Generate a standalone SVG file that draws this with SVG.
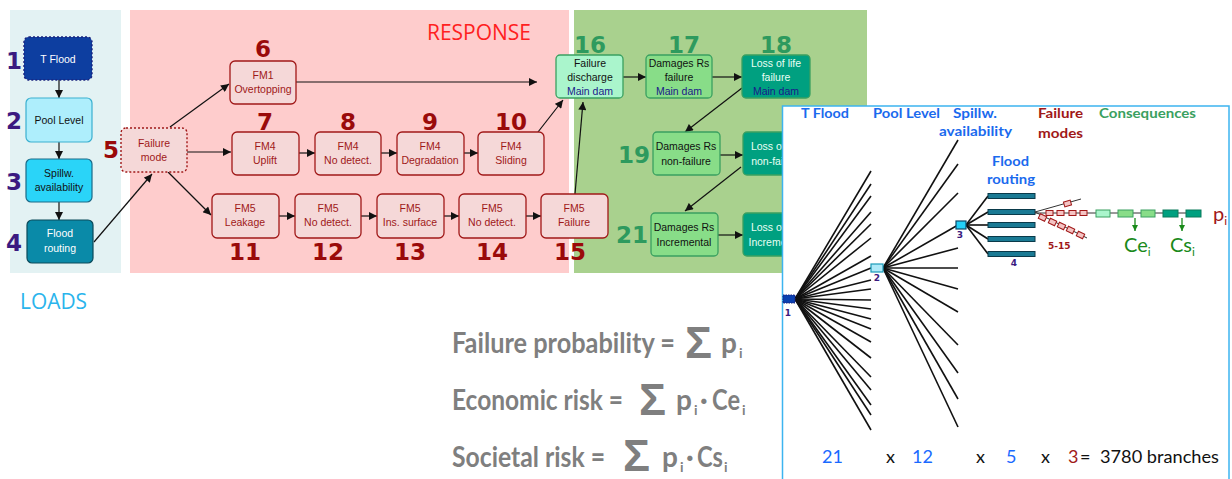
<svg xmlns="http://www.w3.org/2000/svg" width="1232" height="479" viewBox="0 0 1232 479">
<defs>
<marker id="ah" viewBox="0 0 10 10" refX="10" refY="5" markerWidth="9" markerHeight="8" markerUnits="userSpaceOnUse" orient="auto"><path d="M0,0 L10,5 L0,10 z" fill="#111"/></marker>
<marker id="ahg" viewBox="0 0 10 10" refX="10" refY="5" markerWidth="6" markerHeight="6" markerUnits="userSpaceOnUse" orient="auto"><path d="M0,0 L10,5 L0,10 z" fill="#1a8a1a"/></marker>
<style>
.bt{font-family:"Liberation Sans",Arial,sans-serif;font-size:10.5px;text-anchor:middle}
.fm{fill:#f5d8d8;stroke:#a01818;stroke-width:1.3}
.fmt{fill:#a01818}
.nr{font-family:"DejaVu Sans",Verdana,sans-serif;font-weight:bold;font-size:23px;fill:#9a0a0a;text-anchor:middle}
.ng{font-family:"DejaVu Sans",Verdana,sans-serif;font-weight:bold;font-size:23px;fill:#2e9a5e;text-anchor:middle}
.np{font-family:"DejaVu Sans",Verdana,sans-serif;font-weight:bold;font-size:23px;fill:#3a1a80;text-anchor:middle}
.c{stroke:#111;stroke-width:1.2;fill:none;marker-end:url(#ah)}
.hd{font-family:Lato,"Open Sans",sans-serif;font-weight:bold;font-size:14px}
.br{stroke:#111;stroke-width:1.6}
.fx{font-family:Lato,"Open Sans",sans-serif;font-weight:bold;font-size:28px;fill:#7f7f7f}
.sg{font-family:"Liberation Sans",Arial,sans-serif;font-weight:bold;font-size:45px;fill:#7f7f7f}
.sb{font-family:Lato,"Open Sans",sans-serif;font-weight:bold;font-size:14px;fill:#7f7f7f}
.ct{font-family:Lato,"Open Sans",sans-serif;font-size:18px}
.tn{font-family:"DejaVu Sans",Verdana,sans-serif;font-weight:bold;font-size:9px;fill:#3a1a80;text-anchor:middle}
.pk{fill:#f4c4c4;stroke:#a01818;stroke-width:1}
</style>
</defs>

<!-- panels -->
<rect x="10" y="10" width="111" height="263" fill="#e3f2f3"/>
<rect x="130" y="10" width="439" height="263" fill="#fecccc"/>
<rect x="574" y="10" width="293" height="263" fill="#a9d18e"/>
<text x="20" y="309" font-family="'Open Sans',sans-serif" font-size="21" fill="#2ab4ec" textLength="67" lengthAdjust="spacingAndGlyphs">LOADS</text>
<text x="427" y="40" font-family="'Open Sans',sans-serif" font-size="21" fill="#ff2020" textLength="104" lengthAdjust="spacingAndGlyphs">RESPONSE</text>

<!-- connectors -->
<g id="connectors">
<line class="c" x1="59" y1="80" x2="59" y2="98"/>
<line class="c" x1="59" y1="142" x2="59" y2="159"/>
<line class="c" x1="59" y1="202" x2="59" y2="220"/>
<line class="c" x1="94" y1="242" x2="152" y2="174"/>
<line class="c" x1="170" y1="127" x2="229" y2="84"/>
<line class="c" x1="187" y1="152" x2="231" y2="152"/>
<line class="c" x1="168" y1="172" x2="211" y2="215"/>
<line class="c" x1="296" y1="82" x2="537" y2="82"/>
<line class="c" x1="299" y1="153" x2="315" y2="153"/>
<line class="c" x1="381" y1="153" x2="397" y2="153"/>
<line class="c" x1="464" y1="153" x2="478" y2="153"/>
<line class="c" x1="538" y1="132" x2="563" y2="100"/>
<line class="c" x1="279" y1="216" x2="295" y2="216"/>
<line class="c" x1="361" y1="216" x2="377" y2="216"/>
<line class="c" x1="444" y1="216" x2="459" y2="216"/>
<line class="c" x1="526" y1="216" x2="541" y2="216"/>
<line class="c" x1="575" y1="194" x2="583" y2="102"/>
<line class="c" x1="623" y1="77" x2="646" y2="77"/>
<line class="c" x1="712" y1="77" x2="742" y2="77"/>
<line class="c" x1="742" y1="88" x2="685" y2="132"/>
<line class="c" x1="720" y1="155" x2="743" y2="155"/>
<line class="c" x1="741" y1="167" x2="685" y2="211"/>
<line class="c" x1="718" y1="235" x2="743" y2="235"/>
</g>

<!-- loads nodes -->
<g id="n1"><rect x="24" y="37" width="68" height="43" rx="5" fill="#0d3ea0" stroke="#1a237e" stroke-width="1.4" stroke-dasharray="2 2"/><text class="bt" x="58" y="63" fill="#fff">T Flood</text><text class="np" x="14" y="69">1</text></g>
<g id="n2"><rect x="26" y="98" width="66" height="44" rx="5" fill="#aeeefc" stroke="#3ab0d0" stroke-width="1.2"/><text class="bt" x="59" y="124" fill="#111">Pool Level</text><text class="np" x="14" y="129">2</text></g>
<g id="n3"><rect x="26" y="159" width="66" height="43" rx="5" fill="#2ad4f8" stroke="#1a6a88" stroke-width="1.2"/><text class="bt" x="59" y="177" fill="#111">Spillw.</text><text class="bt" x="59" y="191" fill="#111">availability</text><text class="np" x="14" y="190">3</text></g>
<g id="n4"><rect x="27" y="220" width="66" height="43" rx="5" fill="#0a8aa8" stroke="#0a4a5a" stroke-width="1.2"/><text class="bt" x="60" y="237" fill="#fff">Flood</text><text class="bt" x="60" y="252" fill="#fff">routing</text><text class="np" x="14" y="251">4</text></g>

<!-- response nodes -->
<g id="n5"><rect x="121" y="128" width="66" height="44" rx="5" fill="#f5d8d8" stroke="#a01818" stroke-width="1.4" stroke-dasharray="2 2"/><text class="bt fmt" x="154" y="147">Failure</text><text class="bt fmt" x="154" y="161">mode</text><text class="nr" x="111" y="158">5</text></g>
<g id="n6"><rect class="fm" x="230" y="61" width="66" height="43" rx="5"/><text class="bt fmt" x="263" y="79">FM1</text><text class="bt fmt" x="263" y="93">Overtopping</text><text class="nr" x="263" y="57">6</text></g>
<g id="n7"><rect class="fm" x="232" y="132" width="67" height="43" rx="5"/><text class="bt fmt" x="265" y="150">FM4</text><text class="bt fmt" x="265" y="164">Uplift</text><text class="nr" x="265" y="130">7</text></g>
<g id="n8"><rect class="fm" x="315" y="132" width="66" height="43" rx="5"/><text class="bt fmt" x="348" y="150">FM4</text><text class="bt fmt" x="348" y="164">No detect.</text><text class="nr" x="348" y="130">8</text></g>
<g id="n9"><rect class="fm" x="397" y="132" width="67" height="43" rx="5"/><text class="bt fmt" x="430" y="150">FM4</text><text class="bt fmt" x="430" y="164">Degradation</text><text class="nr" x="430" y="130">9</text></g>
<g id="n10"><rect class="fm" x="478" y="132" width="66" height="43" rx="5"/><text class="bt fmt" x="511" y="150">FM4</text><text class="bt fmt" x="511" y="164">Sliding</text><text class="nr" x="511" y="130">10</text></g>
<g id="n11"><rect class="fm" x="212" y="194" width="67" height="44" rx="5"/><text class="bt fmt" x="245" y="212">FM5</text><text class="bt fmt" x="245" y="226">Leakage</text><text class="nr" x="245" y="260">11</text></g>
<g id="n12"><rect class="fm" x="295" y="194" width="66" height="44" rx="5"/><text class="bt fmt" x="328" y="212">FM5</text><text class="bt fmt" x="328" y="226">No detect.</text><text class="nr" x="328" y="260">12</text></g>
<g id="n13"><rect class="fm" x="377" y="194" width="67" height="44" rx="5"/><text class="bt fmt" x="410" y="212">FM5</text><text class="bt fmt" x="410" y="226">Ins. surface</text><text class="nr" x="410" y="260">13</text></g>
<g id="n14"><rect class="fm" x="459" y="194" width="67" height="44" rx="5"/><text class="bt fmt" x="492" y="212">FM5</text><text class="bt fmt" x="492" y="226">No detect.</text><text class="nr" x="492" y="260">14</text></g>
<g id="n15"><rect class="fm" x="541" y="194" width="67" height="44" rx="5"/><text class="bt fmt" x="574" y="212">FM5</text><text class="bt fmt" x="574" y="226">Failure</text><text class="nr" x="570" y="260">15</text></g>

<!-- consequence nodes -->
<g id="n16"><rect x="556" y="55" width="67" height="43" rx="4" fill="#aaf5cc" stroke="#3aa060" stroke-width="1.3"/><text class="bt" x="590" y="67" fill="#111">Failure</text><text class="bt" x="590" y="81" fill="#111">discharge</text><text class="bt" x="590" y="95" fill="#1a1a8a">Main dam</text><text class="ng" x="590" y="53">16</text></g>
<g id="n17"><rect x="646" y="55" width="66" height="43" rx="4" fill="#88dd88" stroke="#3aa060" stroke-width="1.3"/><text class="bt" x="679" y="67" fill="#111">Damages Rs</text><text class="bt" x="679" y="81" fill="#111">failure</text><text class="bt" x="679" y="95" fill="#1a1a8a">Main dam</text><text class="ng" x="684" y="53">17</text></g>
<g id="n18"><rect x="742" y="55" width="68" height="43" rx="4" fill="#00a080" stroke="#3aa060" stroke-width="1.3"/><text class="bt" x="776" y="67" fill="#e8fff4">Loss of life</text><text class="bt" x="776" y="81" fill="#e8fff4">failure</text><text class="bt" x="776" y="95" fill="#1a1a8a">Main dam</text><text class="ng" x="776" y="53">18</text></g>
<g id="n19"><rect x="653" y="132" width="67" height="43" rx="4" fill="#88dd88" stroke="#3aa060" stroke-width="1.3"/><text class="bt" x="686" y="150" fill="#111">Damages Rs</text><text class="bt" x="686" y="165" fill="#111">non-failure</text><text class="ng" x="634" y="163">19</text></g>
<g id="n20"><rect x="743" y="132" width="67" height="43" rx="4" fill="#00a080" stroke="#3aa060" stroke-width="1.3"/><text class="bt" x="776" y="150" fill="#e8fff4">Loss of life</text><text class="bt" x="776" y="165" fill="#e8fff4">non-failure</text></g>
<g id="n21"><rect x="651" y="213" width="67" height="43" rx="4" fill="#88dd88" stroke="#3aa060" stroke-width="1.3"/><text class="bt" x="684" y="231" fill="#111">Damages Rs</text><text class="bt" x="684" y="246" fill="#111">Incremental</text><text class="ng" x="632" y="243">21</text></g>
<g id="n22"><rect x="743" y="213" width="67" height="43" rx="4" fill="#00a080" stroke="#3aa060" stroke-width="1.3"/><text class="bt" x="776" y="231" fill="#e8fff4">Loss of life</text><text class="bt" x="776" y="246" fill="#e8fff4">Incremental</text></g>

<!-- formulas -->
<g id="formulas">
<text class="fx" x="452" y="353" textLength="223" lengthAdjust="spacingAndGlyphs">Failure probability =</text>
<text class="sg" x="685" y="358">Σ</text>
<text class="fx" x="721" y="353">p</text><text class="sb" x="739" y="358">i</text>
<text class="fx" x="452" y="410" textLength="171" lengthAdjust="spacingAndGlyphs">Economic risk =</text>
<text class="sg" x="639" y="415">Σ</text>
<text class="fx" x="676" y="410">p</text><text class="sb" x="694" y="415">i</text>
<text class="fx" x="700" y="410">·</text>
<text class="fx" x="712" y="410" textLength="28" lengthAdjust="spacingAndGlyphs">Ce</text><text class="sb" x="742" y="415">i</text>
<text class="fx" x="452" y="467" textLength="153" lengthAdjust="spacingAndGlyphs">Societal risk =</text>
<text class="sg" x="623" y="471">Σ</text>
<text class="fx" x="662" y="467">p</text><text class="sb" x="680" y="472">i</text>
<text class="fx" x="686" y="467">·</text>
<text class="fx" x="697" y="467" textLength="26" lengthAdjust="spacingAndGlyphs">Cs</text><text class="sb" x="724" y="472">i</text>
</g>

<!-- event tree -->
<g id="event-tree">
<rect x="782.5" y="106" width="446.5" height="390" fill="#fff" stroke="#3cb4f0" stroke-width="1.5"/>
<g class="hd">
<text x="801" y="118" fill="#1a6aee" textLength="48" lengthAdjust="spacingAndGlyphs">T Flood</text>
<text x="873" y="118" fill="#1a6aee" textLength="67" lengthAdjust="spacingAndGlyphs">Pool Level</text>
<text x="953" y="118" fill="#1a6aee" textLength="44" lengthAdjust="spacingAndGlyphs">Spillw.</text>
<text x="939" y="136" fill="#1a6aee" textLength="73" lengthAdjust="spacingAndGlyphs">availability</text>
<text x="992" y="166" fill="#1a6aee" textLength="37" lengthAdjust="spacingAndGlyphs">Flood</text>
<text x="987" y="184" fill="#1a6aee" textLength="48" lengthAdjust="spacingAndGlyphs">routing</text>
<text x="1038" y="118" fill="#a01818" textLength="45" lengthAdjust="spacingAndGlyphs">Failure</text>
<text x="1038" y="138" fill="#a01818" textLength="45" lengthAdjust="spacingAndGlyphs">modes</text>
<text x="1099" y="118" fill="#3aa060" textLength="97" lengthAdjust="spacingAndGlyphs">Consequences</text>
</g>
<g class="br">
<line x1="795" y1="299" x2="871" y2="171"/><line x1="795" y1="299" x2="871" y2="184"/><line x1="795" y1="299" x2="871" y2="196"/><line x1="795" y1="299" x2="871" y2="212"/><line x1="795" y1="299" x2="871" y2="224"/><line x1="795" y1="299" x2="871" y2="238"/><line x1="795" y1="299" x2="871" y2="256"/><line x1="795" y1="299" x2="871" y2="268"/><line x1="795" y1="299" x2="871" y2="280"/><line x1="795" y1="299" x2="871" y2="289"/><line x1="795" y1="299" x2="871" y2="300"/><line x1="795" y1="299" x2="871" y2="309"/><line x1="795" y1="299" x2="871" y2="319"/><line x1="795" y1="299" x2="871" y2="329"/><line x1="795" y1="299" x2="871" y2="342"/><line x1="795" y1="299" x2="871" y2="358"/><line x1="795" y1="299" x2="871" y2="377"/><line x1="795" y1="299" x2="871" y2="390"/><line x1="795" y1="299" x2="871" y2="405"/><line x1="795" y1="299" x2="871" y2="415"/><line x1="795" y1="299" x2="871" y2="430"/>
<line x1="883" y1="268" x2="958" y2="140"/><line x1="883" y1="268" x2="958" y2="164"/><line x1="883" y1="268" x2="958" y2="193"/><line x1="883" y1="268" x2="958" y2="225"/><line x1="883" y1="268" x2="958" y2="248"/><line x1="883" y1="268" x2="958" y2="268"/><line x1="883" y1="268" x2="958" y2="289"/><line x1="883" y1="268" x2="958" y2="312"/><line x1="883" y1="268" x2="958" y2="345"/><line x1="883" y1="268" x2="958" y2="373"/><line x1="883" y1="268" x2="958" y2="399"/><line x1="883" y1="268" x2="958" y2="427"/>
<line x1="966" y1="225" x2="988" y2="196"/><line x1="966" y1="225" x2="988" y2="212"/><line x1="966" y1="225" x2="988" y2="225"/><line x1="966" y1="225" x2="988" y2="239"/><line x1="966" y1="225" x2="988" y2="254"/>
</g>
<rect x="783" y="295" width="12" height="8" fill="#0a40b0" stroke="#1a237e" stroke-width="1" stroke-dasharray="1.5 1"/>
<rect x="871" y="264" width="12" height="8" fill="#aee9f8" stroke="#1a9ab8" stroke-width="1.2"/>
<rect x="956" y="221" width="10" height="8" fill="#22d0f8" stroke="#0a4a6a" stroke-width="1.2"/>
<g fill="#1a7a94" stroke="#0a3a4a" stroke-width="1">
<rect x="988" y="193.5" width="47" height="5"/><rect x="988" y="209.5" width="47" height="5"/><rect x="988" y="222.5" width="47" height="5"/><rect x="988" y="236.5" width="47" height="5"/><rect x="988" y="251.5" width="47" height="5"/>
</g>
<text class="tn" x="788" y="316">1</text>
<text class="tn" x="877" y="281">2</text>
<text class="tn" x="960" y="238">3</text>
<text class="tn" x="1014" y="266">4</text>
<!-- failure mode branches -->
<g stroke="#333" stroke-width="1">
<line x1="1035" y1="212" x2="1081" y2="199"/>
<line x1="1035" y1="212" x2="1087" y2="238"/>
<line x1="1035" y1="213" x2="1201" y2="213"/>
</g>
<rect class="pk" x="1064" y="201" width="7" height="5" transform="rotate(-16 1067.5 203.5)"/>
<rect class="pk" x="1046" y="210.5" width="7" height="5"/><rect class="pk" x="1057" y="210.5" width="7" height="5"/><rect class="pk" x="1069" y="210.5" width="7" height="5"/><rect class="pk" x="1080" y="210.5" width="7" height="5"/>
<rect class="pk" x="1039" y="215" width="7" height="5" transform="rotate(26 1042.5 217.5)"/>
<rect class="pk" x="1049" y="219.5" width="7" height="5" transform="rotate(26 1052.5 222)"/>
<rect class="pk" x="1058" y="223.5" width="7" height="5" transform="rotate(26 1061.5 226)"/>
<rect class="pk" x="1067" y="227.5" width="7" height="5" transform="rotate(26 1070.5 230)"/>
<rect class="pk" x="1077" y="232.5" width="7" height="5" transform="rotate(26 1080.5 235)"/>
<rect x="1096" y="210" width="14" height="7" fill="#aaf5cc" stroke="#3aa060" stroke-width="1"/>
<rect x="1118" y="210" width="15" height="7" fill="#88dd88" stroke="#3aa060" stroke-width="1"/>
<rect x="1141" y="210" width="14" height="7" fill="#88dd88" stroke="#3aa060" stroke-width="1"/>
<rect x="1163" y="210" width="15" height="7" fill="#00a080" stroke="#0a7a5a" stroke-width="1"/>
<rect x="1186" y="210" width="15" height="7" fill="#00a080" stroke="#0a7a5a" stroke-width="1"/>
<line x1="1135" y1="218" x2="1135" y2="231" stroke="#1a8a1a" stroke-width="1.3" marker-end="url(#ahg)"/>
<line x1="1182" y1="218" x2="1182" y2="231" stroke="#1a8a1a" stroke-width="1.3" marker-end="url(#ahg)"/>
<text x="1048" y="249" font-family="'DejaVu Sans',sans-serif" font-weight="bold" font-size="9" fill="#a01818">5-15</text>
<text x="1213" y="221" font-family="Lato,'Open Sans',sans-serif" font-size="20" fill="#a01818">p<tspan font-size="12" dy="4">i</tspan></text>
<text x="1124" y="252" font-family="Lato,'Open Sans',sans-serif" font-size="20" fill="#1a8a1a">Ce<tspan font-size="12" dy="4">i</tspan></text>
<text x="1170" y="252" font-family="Lato,'Open Sans',sans-serif" font-size="20" fill="#1a8a1a">Cs<tspan font-size="12" dy="4">i</tspan></text>
<text class="ct" x="822" y="463" fill="#1a6aff">21</text>
<text class="ct" x="886" y="463" fill="#111" font-size="14">x</text>
<text class="ct" x="912" y="463" fill="#1a6aff">12</text>
<text class="ct" x="976" y="463" fill="#111" font-size="14">x</text>
<text class="ct" x="1006" y="463" fill="#1a6aff">5</text>
<text class="ct" x="1041" y="463" fill="#111" font-size="14">x</text>
<text class="ct" x="1068" y="463" fill="#a01818">3</text>
<text class="ct" x="1080" y="463" fill="#111">=</text>
<text class="ct" x="1100" y="463" fill="#111" textLength="119" lengthAdjust="spacingAndGlyphs">3780 branches</text>
</g>
</svg>
